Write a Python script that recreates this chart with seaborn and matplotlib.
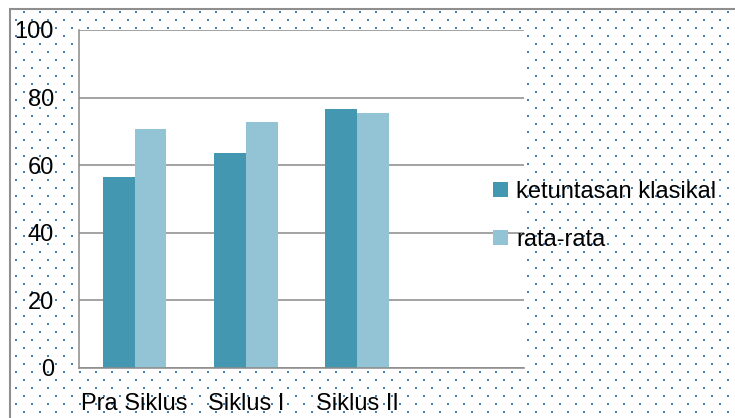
import numpy as np
import pandas as pd
import matplotlib
matplotlib.use("Agg")
import matplotlib.pyplot as plt
import seaborn as sns
from matplotlib.patches import Rectangle

# data
categories = ["Pra Siklus", "Siklus I", "Siklus II"]
ketuntasan = [56.6, 63.5, 76.7]
rata_rata = [70.8, 72.9, 75.5]
series_names = ["ketuntasan klasikal", "rata-rata"]
y_ticks = [0, 20, 40, 60, 80, 100]

colors = ["#4397b0", "#93c4d5"]
grid_gray = "#8a8a8a"
dot_blue = "#4a7ebb"

df = pd.DataFrame({
    "kategori": categories * 2,
    "nilai": ketuntasan + rata_rata,
    "seri": [series_names[0]] * len(categories) + [series_names[1]] * len(categories),
})

sns.set_style("white")
plt.rcParams["font.family"] = ["Liberation Sans", "DejaVu Sans"]
plt.rcParams["text.color"] = "black"
plt.rcParams["xtick.labelcolor"] = "black"
plt.rcParams["ytick.labelcolor"] = "black"

W, H = 735, 418
fig = plt.figure(figsize=(W / 100, H / 100), dpi=100)

# dotted background texture (Excel 5% pattern)
bg = np.ones((H, W, 3))
rgb = np.array(matplotlib.colors.to_rgb(dot_blue))
for y in range(12, H, 8):
    off = 8 if (y % 16) == 12 else 0
    for x in range(12 + ((off - 12) % 16), W, 16):
        bg[y - 1:y + 1, x - 1:x + 1] = rgb
bg[:10, :] = 1
bg[:, :11] = 1
fig.figimage(bg, 0, 0, zorder=-1)

# outer chart border (only top and left are visible in the crop)
fig.add_artist(Rectangle((10 / W, -0.2), 2, 1.2 - 9 / H,
                         transform=fig.transFigure, fill=False,
                         edgecolor="#8f8f8f", lw=1.5))

ax = fig.add_axes([79 / W, 50 / H, 445 / W, 338 / H])
ax.set_facecolor("white")

sns.barplot(data=df, x="kategori", y="nilai", hue="seri", order=categories,
            hue_order=series_names, palette=colors, width=0.57,
            saturation=1, linewidth=0, ax=ax)

ax.set_xlim(-0.5, 3.5)
ax.set_ylim(0, 100)
ax.set_yticks(y_ticks)
ax.set_xlabel("")
ax.set_ylabel("")

# category ticks at the boundaries, labels at the centers
ax.set_xticks(np.arange(-0.5, 4.0, 1.0))
ax.set_xticklabels([])
ax.set_xticks(range(len(categories)), minor=True)
ax.set_xticklabels(categories, minor=True, fontsize=17)
ax.tick_params(axis="x", which="minor", length=0, pad=18)
ax.tick_params(axis="x", which="major", length=5, width=1.1, color=grid_gray,
               direction="out")
ax.tick_params(axis="y", length=5, width=1.1, color=grid_gray, labelsize=17,
               pad=13, direction="out")

ax.grid(axis="y", color=grid_gray, lw=1.1)
ax.set_axisbelow(True)
for side in ["top", "right"]:
    ax.spines[side].set_visible(False)
for side in ["left", "bottom"]:
    ax.spines[side].set_color(grid_gray)
    ax.spines[side].set_linewidth(1.1)

handles, labels = ax.get_legend_handles_labels()
ax.get_legend().remove()
fig.legend(handles, labels, loc="center left",
           bbox_to_anchor=(493 / W, 1 - 216 / H), frameon=False,
           fontsize=17, handlelength=0.63, handleheight=0.63,
           handletextpad=0.35, labelspacing=1.1, borderpad=0,
           borderaxespad=0, labelcolor="black")

fig.savefig("out.png", dpi=100)
